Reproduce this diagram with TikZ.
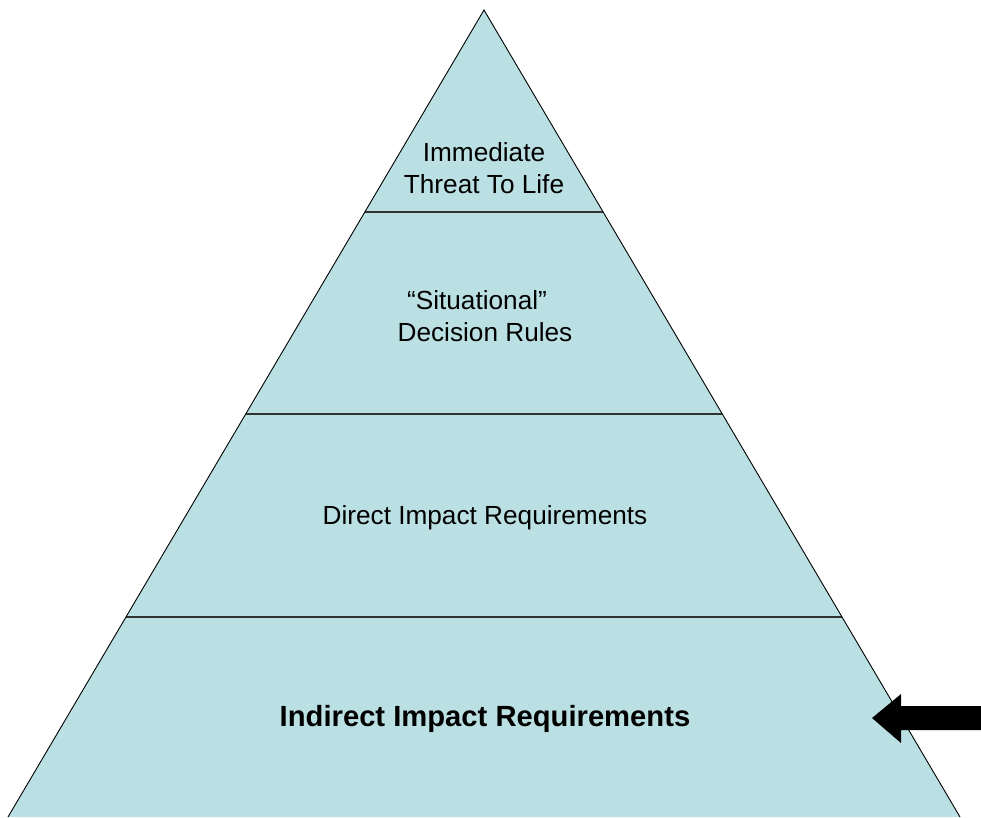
\documentclass[tikz,border=0pt]{standalone}
\usepackage{fontspec}
\setmainfont{Liberation Sans}
\begin{document}
\begin{tikzpicture}[x=1pt,y=-1pt,
  lbl/.style={align=center,inner sep=0pt,font=\fontsize{26.2}{32}\selectfont},
  blbl/.style={align=center,inner sep=0pt,font=\fontsize{29.2}{34}\selectfont\bfseries},
  sep/.style={draw=black!80,line width=2pt},
  edge/.style={draw=black,line width=0.9pt}]
\useasboundingbox (0,0) rectangle (981,817);
\definecolor{pyr}{HTML}{BBE0E3}
\coordinate (apex) at (484,10);
\coordinate (bl) at (8,817);
\coordinate (br) at (960,817);
\fill[pyr] (apex) -- (bl) -- (br) -- cycle;
\coordinate (l1) at (364.9,212); \coordinate (r1) at (603.1,212);
\coordinate (l2) at (245.7,414); \coordinate (r2) at (722.3,414);
\coordinate (l3) at (126,617);   \coordinate (r3) at (842,617);
\draw[sep] (l1) -- (r1);
\draw[sep] (l2) -- (r2);
\draw[sep] (l3) -- (r3);
\draw[edge] (bl) -- (apex) -- (br);
\node[lbl] (t1) at (484,168) {Immediate\\Threat To Life};
\node[lbl,anchor=center] (t2a) at (477,300) {“Situational”};
\node[lbl,anchor=center] (t2b) at (485,332) {Decision Rules};
\node[lbl] (t3) at (485,518) {Direct Impact Requirements};
\node[blbl] (t4) at (485,719) {Indirect Impact Requirements};
\fill[black] (872,718) -- (901,694) -- (901,706) -- (981,706) -- (981,730) -- (901,730) -- (901,743) -- cycle;
\end{tikzpicture}
\end{document}
